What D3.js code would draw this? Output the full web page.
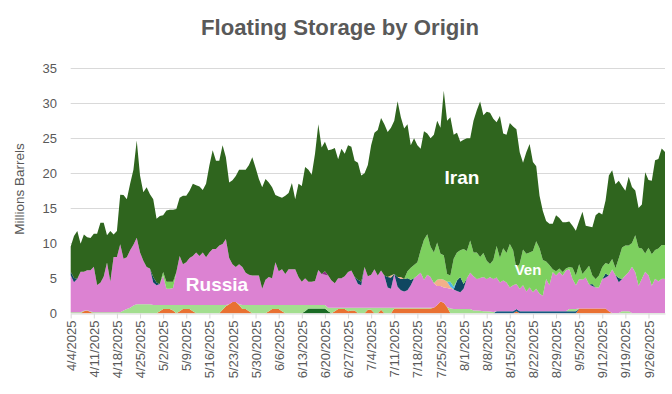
<!DOCTYPE html>
<html><head><meta charset="utf-8">
<script src="https://cdn.jsdelivr.net/npm/d3@7"></script>
<style>body{margin:0;background:#fff}svg{display:block}</style>
</head><body>
<svg id="chart" width="672" height="394"></svg>
<script>
// ---- data ----
const startDate = "2025-04-04";
const endDate = "2025-10-01";
const tickLabels = ["4/4/2025","4/11/2025","4/18/2025","4/25/2025","5/2/2025","5/9/2025","5/16/2025","5/23/2025","5/30/2025","6/6/2025","6/13/2025","6/20/2025","6/27/2025","7/4/2025","7/11/2025","7/18/2025","7/25/2025","8/1/2025","8/8/2025","8/15/2025","8/22/2025","8/29/2025","9/5/2025","9/12/2025","9/19/2025","9/26/2025"];
const yTicks = [0,5,10,15,20,25,30,35];

const otherOrange = [
0,0,0,0,.3,.4,.2,0,0,0,
0,0,0,0,0,0,0,0,0,0,
0,0,0,0,0,0,0,.3,.6,.6,
.6,.4,0,.3,.6,.6,.6,.3,0,0,
0,0,0,0,0,0,.5,1.0,1.3,1.6,
1.6,1.2,.6,.6,.3,0,0,0,0,0,
.3,.6,.6,.6,.3,0,0,0,0,0,
0,0,0,0,0,0,0,0,0,0,
.3,.6,.6,.6,.3,.4,.4,0,0,0,
.5,.5,0,0,.5,0,0,0,.7,.7,
.7,.7,.7,.7,.7,.7,.7,.7,.7,.7,
.8,1.2,1.7,1.5,.9,0,0,0,0,0,
0,0,0,0,0,0,0,0,0,0,
0,0,0,0,0,.3,0,0,0,0,
0,0,0,0,0,0,0,0,0,0,
0,0,0,0,.7,.7,.7,.7,.7,.7,
.7,.7,.7,.3,0,0,0,0,0,0,
0,0,0,0,0,0,0,0,0,0,0];
const otherDarkGreen = [
0,0,0,0,0,0,0,0,0,0, 0,0,0,0,0,0,0,0,0,0,
0,0,0,0,0,0,0,0,0,0, 0,0,0,0,0,0,0,0,0,0,
0,0,0,0,0,0,0,0,0,0, 0,0,0,0,0,0,0,0,0,0,
0,0,0,0,0,0,0,0,0,0, 0,.3,.7,.7,.7,.7,.7,.7,.3,0,
0,0,0,0,0,0,0,0,0,0, 0,0,0,0,0,0,0,0,0,0,
0,0,0,0,0,0,0,0,0,0, 0,0,0,0,0,0,0,0,0,0,
0,0,0,0,0,0,0,0,0,0, 0,0,0,0,0,0,0,0,0,0,
0,0,0,0,0,0,0,0,0,0, 0,0,0,0,0,0,0,0,0,0,
0,0,0,0,0,0,0,0,0,0, 0,0,0,0,0,0,0,0,0,0,0];
const otherNavyLow = [
0,0,0,0,0,0,0,0,0,0, 0,0,0,0,0,0,0,0,0,0,
0,0,0,0,0,0,0,0,0,0, 0,0,0,0,0,0,0,0,0,0,
0,0,0,0,0,0,0,0,0,0, 0,0,0,0,0,0,0,0,0,0,
0,0,0,0,0,0,0,0,0,0, 0,0,0,0,0,0,0,0,0,0,
0,0,0,0,0,0,0,0,0,0, 0,0,0,0,0,0,0,0,0,0,
0,0,0,0,0,0,0,0,0,0, 0,0,0,0,0,0,0,0,0,0,
0,0,0,0,0,0,0,0,0,.3, .3,.3,.3,.3,.3,.3,.3,.3,.3,.3,
.3,.3,.3,.3,.3,.3,.3,.3,.3,.3, .3,.3,.3,.3,0,0,0,0,0,0,
0,0,0,0,0,0,0,0,0,0, 0,0,0,0,0,0,0,0,0,0,0];
const otherLightGreen = [
.15,.15,.15,.15,.05,.05,.05,.15,.15,.15,
.15,.15,.15,.15,.15,.15,.4,.6,.8,1.1,
1.3,1.3,1.3,1.3,1.3,1.2,1.2,.9,.6,.6,
.6,.8,1.2,.9,.6,.6,.6,.9,1.2,1.2,
1.2,1.2,1.2,1.2,1.2,1.2,.7,.2,0,0,
0,.1,.6,.6,.9,1.2,1.2,1.2,1.2,1.2,
.9,.6,.6,.6,.9,1.2,1.2,1.2,1.2,1.2,
1.2,.9,.5,.5,.5,.5,.5,.5,.5,.8,
.5,.2,.2,.2,.5,.4,.4,.8,.8,.8,
.3,.3,.8,.8,.3,.8,.8,.8,.1,.1,
.1,.1,.1,.1,.1,.1,.1,.1,.1,.1,
0,0,0,0,0,.7,.6,.6,.6,.6,
.6,.6,.4,.4,.35,.3,.3,.25,.2,0,
0,0,0,0,0,0,0,0,0,0,
0,0,0,0,0,0,0,0,0,0,
0,.3,.3,.3,0,0,0,0,0,0,
0,0,0,0,.05,.05,.05,.3,.3,.3,
.05,.05,.05,.05,.05,.05,.05,.05,.05,.05,.05];
const russia = [
5.3,4.3,4.8,5.8,5.6,5.7,5.9,6.5,3.9,4.2,
5.1,7.1,4.4,7.9,7.9,9.7,7.4,7.4,8.2,8.7,
9.5,7.4,6.2,5.3,5.1,3.2,2.8,3.0,4.2,2.3,
2.3,2.4,4.7,7.0,5.8,6.1,6.7,7.0,7.5,7.0,
7.5,6.8,7.5,8.0,8.0,8.5,8.7,9.4,6.6,5.4,
5.0,5.7,5.4,4.6,4.3,4.2,4.2,4.2,2.3,3.6,
4.0,3.8,6.1,4.8,5.1,4.4,5.1,5.1,5.1,4.0,
3.3,3.8,3.3,3.3,3.4,5.0,4.4,4.3,4.6,3.9,
3.5,4.2,4.2,4.5,5.1,5.3,4.4,3.4,3.2,5.8,
4.5,4.7,5.5,4.6,5.3,4.6,2.9,2.7,4.8,3.0,
2.5,2.3,2.5,3.2,4.2,4.6,5.0,4.0,4.7,4.4,
3.5,2.7,2.2,2.2,2.7,2.8,2.8,2.6,2.4,2.9,
4.4,5.2,4.9,4.5,4.7,4.9,4.6,4.9,4.7,4.8,
4.1,4.4,4.1,3.4,3.7,3.6,3.2,3.7,2.8,3.4,
2.7,3.2,2.5,2.2,4.6,3.7,5.6,5.1,5.6,5.1,
5.8,5.7,4.3,3.4,4.2,4.1,4.4,3.4,3.2,3.0,
3.0,4.2,4.4,5.1,6.2,5.4,4.4,4.6,5.1,5.6,
6.6,5.8,3.9,4.9,5.9,5.4,3.9,4.9,4.5,4.9,4.9];
const otherNavyMid = [
.5,.6,0,0,0,0,0,0,0,0, 0,0,0,0,0,0,0,0,0,0,
0,0,0,0,0,.8,.4,0,0,0, 0,0,0,0,0,0,0,0,0,0,
0,0,0,0,0,0,0,0,0,0, 0,0,0,0,0,0,0,0,0,0,
0,0,0,0,0,0,0,0,0,0, 0,0,0,0,0,0,0,0,0,0,
0,0,0,0,0,0,0,.6,.5,0, 0,0,0,0,0,0,1.5,1.6,0,1.4,
1.6,1.8,1.7,.8,0,0,0,0,0,0, 0,0,0,0,0,0,0,1.5,2.2,.7,
0,0,0,0,0,0,0,0,0,0, 0,0,0,0,0,0,0,0,0,0,
0,0,0,0,0,0,0,0,0,0, 0,0,0,0,0,0,0,0,.3,0,
0,0,.6,0,0,0,.6,0,0,0,0];
const otherPeach = [
0,0,0,0,0,0,0,0,0,0, 0,0,0,0,0,0,0,0,0,0,
0,0,0,0,0,0,0,0,0,0, 0,0,0,0,0,0,0,0,0,0,
0,0,0,0,0,0,0,0,0,0, 0,0,0,0,0,0,0,0,0,0,
0,0,0,0,0,0,0,0,0,0, 0,0,0,0,0,0,0,0,0,0,
0,0,0,0,0,0,0,0,0,0, 0,0,0,0,0,0,0,.3,0,0,
.3,0,0,0,0,0,0,0,0,0, 0,.9,1.0,1.1,.9,.3,0,0,0,0,
0,0,0,0,0,0,0,0,0,0, 0,0,0,0,0,0,0,0,0,0,
0,0,0,0,0,0,0,0,0,0, 0,0,0,0,0,0,0,0,0,0,
0,0,0,0,0,0,0,0,0,0,0];
const otherLightBlue = [
0,0,0,0,0,0,0,0,0,0, 0,0,0,0,0,0,0,0,0,0,
0,0,0,0,0,0,0,0,0,0, 0,0,0,0,0,0,0,0,0,0,
0,0,0,0,0,0,0,0,0,0, 0,0,0,0,0,0,0,0,0,0,
0,0,0,0,0,0,0,0,0,0, 0,0,0,0,0,0,0,0,0,0,
0,0,0,0,0,0,0,0,0,0, 0,0,0,0,0,0,0,0,0,0,
0,0,0,0,0,0,0,0,0,0, 0,0,0,0,0,.7,.4,0,0,0,
0,0,0,0,0,0,0,0,0,0, 0,0,0,0,0,0,0,0,0,0,
0,0,0,0,0,0,0,0,0,0, 0,0,0,0,0,0,0,0,0,0,
0,0,0,0,0,0,0,0,0,0,0];
const otherPurple = [
0,0,0,0,0,0,0,0,0,0, 0,0,0,0,0,0,0,0,0,0,
0,0,0,0,0,0,0,0,0,0, 0,0,0,0,0,0,0,0,0,0,
0,0,0,0,0,0,0,0,0,0, 0,0,0,0,0,0,0,0,0,0,
0,0,0,0,0,0,0,0,0,0, 0,0,0,0,0,0,0,.5,0,0,
0,0,0,0,0,0,0,0,0,0, 0,0,0,0,0,0,0,0,0,0,
0,0,0,0,0,0,0,0,0,0, 0,0,0,0,0,0,0,0,0,0,
0,0,0,0,0,0,0,0,0,0, 0,0,0,0,0,0,0,0,0,0,
0,0,0,0,0,0,0,0,0,0, 0,0,0,0,0,0,0,0,0,0,
0,0,0,0,0,0,0,0,0,0,0];
const ven = [
0,0,0,0,0,0,0,0,0,0, 0,0,0,0,0,0,0,0,0,0,
0,0,0,0,0,0,0,0,.5,1.0, 1.0,.9,0,0,0,0,0,0,0,0,
0,0,0,0,0,0,0,0,0,0, 0,0,0,0,0,0,0,0,0,0,
0,0,0,0,0,0,0,0,0,0, 0,0,0,0,0,0,0,0,0,0,
0,0,0,0,0,0,0,0,0,0, 0,0,0,0,0,0,0,0,0,0,
0,0,1.0,1.7,1.9,1.9,3.2,5.7,5.8,4.3,
4.4,5.3,3.6,3.5,1.1,.9,4.0,4.0,3.8,5.0,
3.9,4.6,3.4,3.8,3.0,3.4,2.6,1.9,2.7,4.5,
3.5,4.6,4.2,6.2,5.0,2.2,3.6,5.1,5.4,5.0,
5.9,6.8,6.5,5.1,2.5,2.9,.4,.6,.5,.5,
.3,.3,1.6,1.4,2.1,.8,1.1,2.7,1.2,1.2,
1.7,1.7,1.5,1.6,1.5,1.0,2.8,4.5,4.3,3.8,
3.4,5.3,5.4,4.3,2.6,3.9,4.5,4.1,4.7,4.8,4.8];
const iran = [
3.6,6.0,6.8,4.0,5.3,4.7,4.6,4.7,7.3,8.6,
7.7,3.9,7.2,3.2,3.7,7.1,9.1,8.3,9.5,10.7,
13.9,11.0,9.8,11.4,10.6,11.1,9.1,9.7,8.1,10.2,
10.3,10.3,9.0,8.3,9.8,9.5,9.6,10.3,9.6,9.9,
8.9,10.5,12.4,14.1,12.6,12.1,14.1,11.7,10.8,12.0,
13.0,13.5,13.9,14.7,15.7,16.9,15.4,13.8,14.5,14.4,
13.5,13.0,9.6,10.7,10.2,11.2,10.9,12.3,10.0,13.3,
13.7,15.9,16.0,15.3,18.2,20.8,18.1,18.5,17.9,18.7,
19.3,17.0,18.5,17.5,18.1,17.7,16.6,16.7,15.2,13.4,
15.9,18.5,19.5,20.8,21.8,21.6,20.7,21.1,21.9,25.1,
22.8,21.5,21.0,17.5,18.1,16.7,14.5,15.5,14.4,15.5,
16.8,17.4,18.0,23.5,21.9,22.6,17.7,17.1,15.5,15.6,
16.1,14.6,18.8,20.3,22.2,19.7,21.3,21.6,20.2,17.7,
20.3,16.4,16.9,17.3,17.7,19.9,15.9,12.4,14.5,15.5,
12.7,10.7,7.5,7.0,5.8,5.9,6.5,8.0,7.2,7.1,
6.6,6.5,6.0,6.4,6.2,8.9,6.3,5.6,6.9,9.1,
9.0,7.5,8.9,12.7,12.7,12.0,11.1,8.8,7.8,9.8,
8.0,6.4,5.7,6.3,11.6,9.7,10.5,12.8,12.8,13.8,13.3];

const seriesKeys = ["otherOrange","otherDarkGreen","otherNavyLow","otherLightGreen","russia","otherNavyMid","otherPeach","otherLightBlue","otherPurple","ven","iran"];
const seriesData = {otherOrange, otherDarkGreen, otherNavyLow, otherLightGreen, russia, otherNavyMid, otherPeach, otherLightBlue, otherPurple, ven, iran};
const seriesColors = {
  otherOrange:"#E97132", otherLightGreen:"#A3DE8F", otherDarkGreen:"#196B24", otherNavyLow:"#155A80",
  russia:"#DC82D2", otherNavyMid:"#0F4761", otherPeach:"#F2B08A", otherLightBlue:"#4DB7E6",
  otherPurple:"#8E2A85", ven:"#7DD05F", iran:"#2F651E"
};

// ---- chart ----
const svg = d3.select("#chart");
const parseISO = d3.timeParse("%Y-%m-%d");
const parseUS = d3.timeParse("%m/%d/%Y");
const d0 = parseISO(startDate), d1 = parseISO(endDate);
const dates = d3.timeDay.range(d0, d3.timeDay.offset(d1, 1));
const rows = dates.map((d, i) => {
  const r = {date: d};
  seriesKeys.forEach(k => r[k] = seriesData[k][i] || 0);
  return r;
});

const x = d3.scaleTime().domain([d0, d1]).range([70.7, 665]);
const y = d3.scaleLinear().domain([0, 35]).range([313.3, 68.3]);

// gridlines
svg.append("g").selectAll("line").data(yTicks.filter(v => v > 0)).join("line")
  .attr("x1", 70.7).attr("x2", 665)
  .attr("y1", d => Math.round(y(d)) + 0.5).attr("y2", d => Math.round(y(d)) + 0.5)
  .attr("stroke", "#D9D9D9").attr("stroke-width", 1);

// stacked areas
const stacked = d3.stack().keys(seriesKeys)(rows);
const area = d3.area()
  .x(d => x(d.data.date))
  .y0(d => y(d[0]))
  .y1(d => y(d[1]));
svg.append("g").selectAll("path").data(stacked).join("path")
  .attr("d", area)
  .attr("fill", d => seriesColors[d.key]);

// x axis
const xTickDates = tickLabels.map(s => parseUS(s));
const xAxis = d3.axisBottom(x).tickValues(xTickDates)
  .tickFormat((d, i) => tickLabels[i]).tickSize(5).tickSizeOuter(0);
const gx = svg.append("g").attr("transform", "translate(0,313.5)").call(xAxis);
gx.select(".domain").attr("stroke", "#D9D9D9");
gx.selectAll(".tick line").attr("stroke", "#D9D9D9");
gx.selectAll(".tick text")
  .attr("fill", "#595959")
  .style("font-family", "'Liberation Sans', Arial, sans-serif")
  .style("font-size", "13px")
  .attr("transform", "rotate(-90)")
  .attr("text-anchor", "end")
  .attr("x", -7).attr("y", 0).attr("dy", "0.35em");

// y axis
const yAxis = d3.axisLeft(y).tickValues(yTicks).tickSize(0).tickPadding(0);
const gy = svg.append("g").attr("transform", "translate(57,0)").call(yAxis);
gy.select(".domain").remove();
gy.selectAll(".tick text")
  .attr("fill", "#595959")
  .style("font-family", "'Liberation Sans', Arial, sans-serif")
  .style("font-size", "13px");

// y axis title
svg.append("text")
  .attr("transform", "translate(24,189) rotate(-90)")
  .attr("text-anchor", "middle")
  .attr("fill", "#595959")
  .style("font-family", "'Liberation Sans', Arial, sans-serif")
  .style("font-size", "13.5px")
  .text("Millions Barrels");

// title
svg.append("text")
  .attr("x", 340).attr("y", 35)
  .attr("text-anchor", "middle")
  .attr("fill", "#595959")
  .attr("textLength", 278).attr("lengthAdjust", "spacingAndGlyphs")
  .style("font-family", "'Liberation Sans Narrow', 'Liberation Sans', Arial, sans-serif")
  .style("font-weight", "bold")
  .style("font-size", "22px")
  .text("Floating Storage by Origin");

// series labels
const labels = [
  {text: "Iran", x: 462, y: 184, size: 19},
  {text: "Russia", x: 217, y: 291, size: 19},
  {text: "Ven", x: 528, y: 275, size: 15}
];
svg.append("g").selectAll("text").data(labels).join("text")
  .attr("x", d => d.x).attr("y", d => d.y)
  .attr("text-anchor", "middle")
  .attr("fill", "#FFFFFF")
  .style("font-family", "'Liberation Sans', Arial, sans-serif")
  .style("font-weight", "bold")
  .style("font-size", d => d.size + "px")
  .text(d => d.text);
</script>
</body></html>
